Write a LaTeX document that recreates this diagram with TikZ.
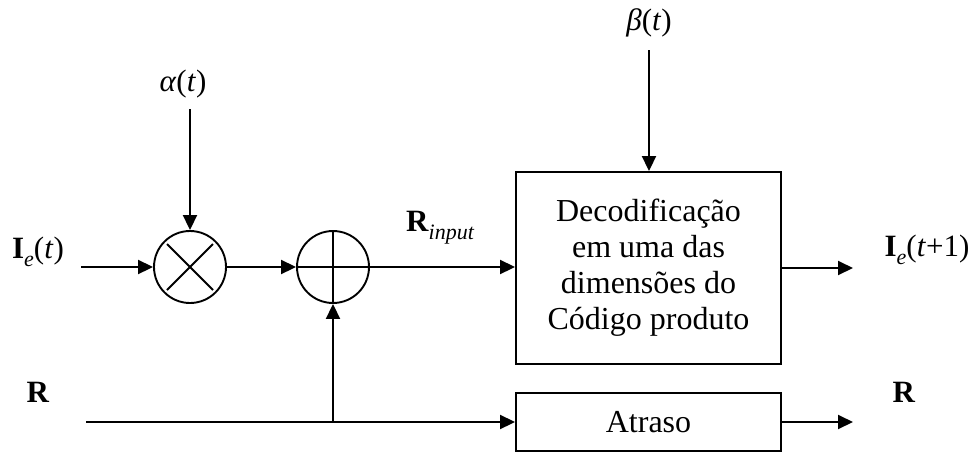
\documentclass[tikz,border=0pt]{standalone}
\usepackage{fontspec}
\setmainfont{Liberation Serif}
\usetikzlibrary{arrows.meta,calc}
\newcommand{\lowsub}[1]{\raisebox{-0.25em}{\fontsize{22}{22}\selectfont\itshape #1}}
\begin{document}
\begin{tikzpicture}[x=1pt,y=-1pt,
  every node/.style={font=\fontsize{31}{36}\selectfont},
  sumnode/.style={circle,draw,line width=1.9pt,minimum size=72pt,inner sep=0pt},
  blockbox/.style={draw,line width=1.9pt,align=center,inner sep=0pt,font=\fontsize{32}{36}\selectfont},
  lbl/.style={inner sep=0pt},
  sig/.style={line width=1.9pt,-{Triangle[length=15pt,width=14pt]}},
  wire/.style={line width=1.9pt}]
\useasboundingbox (0,0) rectangle (972,453);

\node[sumnode] (mul) at (190,267) {};
\node[sumnode] (add) at (333,267) {};
\draw[wire] ($(mul.center)+(-23,-23)$) -- ($(mul.center)+(23,23)$);
\draw[wire] ($(mul.center)+(-23,23)$) -- ($(mul.center)+(23,-23)$);
\draw[wire] (add.west) -- (add.east);
\draw[wire] (add.north) -- (add.south);

\node[blockbox,minimum width=265pt,minimum height=192pt] (dec) at (648.5,268) {Decodificação\\em uma das\\dimensões do\\Código produto};
\node[blockbox,minimum width=265pt,minimum height=58pt] (atr) at (648.5,422) {Atraso};

\node[lbl] (alpha) at (183,84) {\textit{α}(\textit{t})};
\node[lbl] (beta) at (649,23) {\textit{β}(\textit{t})};
\node[lbl] (ie) at (38,252) {\textbf{I}\lowsub{e}(\textit{t})};
\node[lbl] (rin) at (440,228) {\textbf{R}\lowsub{input}};
\node[lbl] (ieo) at (927,250) {\textbf{I}\lowsub{e}(\textit{t}+1)};
\node[lbl] (rl) at (38,392) {\textbf{R}};
\node[lbl] (rr) at (904,392) {\textbf{R}};

\coordinate (ie_in) at (81,267);
\coordinate (al_in) at (190,109);
\coordinate (be_in) at (649,50);
\coordinate (ieo_out) at (853,268);
\coordinate (r_in) at (86,422);
\coordinate (tap) at (333,422);
\coordinate (r_out) at (853,422);

\draw[sig] (ie_in) -- (mul.west);
\draw[sig] (al_in) -- (mul.north);
\draw[sig] (mul.east) -- (add.west);
\draw[sig] (add.east) -- (add.east -| dec.west);
\draw[sig] (be_in) -- (be_in |- dec.north);
\draw[sig] (dec.east) -- (ieo_out);
\draw[sig] (r_in) -- (atr.west);
\draw[sig] (tap) -- (add.south);
\draw[sig] (atr.east) -- (r_out);
\end{tikzpicture}
\end{document}
